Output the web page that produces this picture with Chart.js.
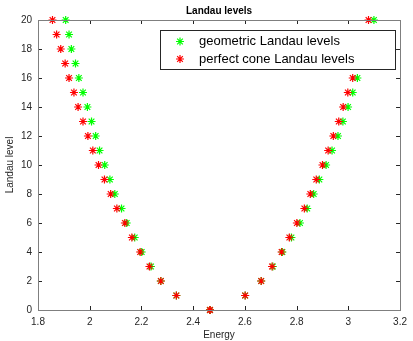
<!DOCTYPE html>
<html>
<head>
<meta charset="utf-8">
<script src="https://cdn.jsdelivr.net/npm/chart.js@4.4.1/dist/chart.umd.min.js"></script>
<style>
  html, body { margin: 0; padding: 0; background: #fff; }
  #wrap { width: 413px; height: 341px; }
</style>
</head>
<body>
<div id="wrap"><canvas id="myChart" width="413" height="341"></canvas></div>
<script>
// Landau level index (y)
const levels = [0, 1, 2, 3, 4, 5, 6, 7, 8, 9, 10, 11, 12, 13, 14, 15, 16, 17, 18, 19, 20];

// energies, indexed by level (null = hidden behind legend)
const geometricLeft  = [2.465, 2.335, 2.275, 2.237, 2.201, 2.174, 2.143, 2.123, 2.097, 2.078, 2.058, 2.038, 2.023, 2.007, 1.991, 1.974, 1.958, 1.945, 1.929, 1.920, 1.907];
const geometricRight = [2.465, 2.601, 2.663, 2.708, 2.745, 2.780, 2.813, 2.841, 2.866, 2.888, 2.914, 2.937, 2.960, 2.979, 2.999, 3.017, 3.035, null, null, null, 3.099];
const coneLeft       = [2.465, 2.335, 2.275, 2.231, 2.195, 2.163, 2.136, 2.105, 2.081, 2.057, 2.034, 2.012, 1.993, 1.974, 1.955, 1.939, 1.920, 1.905, 1.888, 1.872, 1.856];
const coneRight      = [2.465, 2.601, 2.663, 2.705, 2.742, 2.772, 2.801, 2.830, 2.853, 2.876, 2.900, 2.922, 2.942, 2.963, 2.980, 2.998, 3.017, null, null, null, 3.078];

const xTicks = [1.8, 2, 2.2, 2.4, 2.6, 2.8, 3, 3.2];
const yTicks = [0, 2, 4, 6, 8, 10, 12, 14, 16, 18, 20];
const legendLabels = ['geometric Landau levels', 'perfect cone Landau levels'];

function toPoints(left, right) {
    const pts = [];
    levels.forEach((lv, i) => {
        if (left[i] !== null) pts.push({ x: left[i], y: lv });
        if (right[i] !== null) pts.push({ x: right[i], y: lv });
    });
    return pts;
}

const axisColor = '#262626';
const fontFamily = '"Liberation Sans", Arial, Helvetica, sans-serif';

// frame with inward ticks + boxed legend, matlab style
const matlabFrame = {
    id: 'matlabFrame',
    afterDraw(chart) {
        const ctx = chart.ctx;
        const a = chart.chartArea;
        const xs = chart.scales.x, ys = chart.scales.y;
        ctx.save();
        ctx.strokeStyle = axisColor;
        ctx.lineWidth = 1;
        ctx.beginPath();
        xTicks.forEach(v => {
            const px = Math.round(xs.getPixelForValue(v)) + 0.5;
            ctx.moveTo(px, a.bottom); ctx.lineTo(px, a.bottom - 4);
            ctx.moveTo(px, a.top); ctx.lineTo(px, a.top + 4);
        });
        yTicks.forEach(v => {
            const py = Math.round(ys.getPixelForValue(v)) + 0.5;
            ctx.moveTo(a.left, py); ctx.lineTo(a.left + 4, py);
            ctx.moveTo(a.right, py); ctx.lineTo(a.right - 4, py);
        });
        ctx.stroke();
        ctx.strokeStyle = '#7f7f7f';
        ctx.strokeRect(Math.round(a.left) + 0.5, Math.round(a.top) + 0.5,
            Math.round(a.right - a.left), Math.round(a.bottom - a.top));

        // legend box
        const bx = 160.5, by = 30.5, bw = 235, bh = 39;
        ctx.fillStyle = '#fff';
        ctx.fillRect(bx, by, bw, bh);
        ctx.strokeStyle = axisColor;
        ctx.strokeRect(bx, by, bw, bh);
        const colors = ['#00ff00', '#ff0000'];
        ctx.font = '13px ' + fontFamily;
        ctx.textBaseline = 'middle';
        legendLabels.forEach((t, i) => {
            const cy = 41.5 + i * 17.5;
            ctx.strokeStyle = colors[i];
            ctx.lineWidth = 1.2;
            ctx.beginPath();
            for (let k = 0; k < 4; k++) {
                const ang = k * Math.PI / 4;
                ctx.moveTo(180 - 4 * Math.cos(ang), cy - 4 * Math.sin(ang));
                ctx.lineTo(180 + 4 * Math.cos(ang), cy + 4 * Math.sin(ang));
            }
            ctx.stroke();
            ctx.fillStyle = '#000';
            ctx.fillText(t, 199, cy);
        });

        // title
        ctx.font = 'bold 10px ' + fontFamily;
        ctx.textAlign = 'center';
        ctx.textBaseline = 'middle';
        ctx.fillStyle = '#000';
        ctx.fillText('Landau levels', (a.left + a.right) / 2, 11);
        ctx.restore();
    }
};

const ctx = document.getElementById('myChart').getContext('2d');
const myChart = new Chart(ctx, {
    type: 'scatter',
    data: {
        datasets: [
            {
                label: legendLabels[1],
                data: toPoints(coneLeft, coneRight),
                pointStyle: 'star',
                pointRadius: 4,
                borderColor: '#ff0000',
                backgroundColor: '#ff0000',
                borderWidth: 1.2,
                clip: false,
                order: 0
            },
            {
                label: legendLabels[0],
                data: toPoints(geometricLeft, geometricRight),
                pointStyle: 'star',
                pointRadius: 4,
                borderColor: '#00ff00',
                backgroundColor: '#00ff00',
                borderWidth: 1.2,
                clip: false,
                order: 1
            }
        ]
    },
    options: {
        responsive: false,
        animation: false,
        events: [],
        layout: { padding: { top: 20, right: 7, left: 0, bottom: 0 } },
        plugins: {
            legend: { display: false },
            tooltip: { enabled: false },
            title: { display: false }
        },
        scales: {
            x: {
                type: 'linear',
                min: 1.8,
                max: 3.2,
                afterBuildTicks: s => { s.ticks = xTicks.map(v => ({ value: v })); },
                afterFit: s => { s.height = 31; },
                grid: { display: false, drawTicks: false },
                border: { display: false },
                ticks: {
                    padding: 6,
                    color: axisColor,
                    font: { family: fontFamily, size: 10 },
                    maxRotation: 0,
                    callback: v => String(v)
                },
                title: {
                    display: true,
                    text: 'Energy',
                    color: axisColor,
                    padding: { top: 0, bottom: 0 },
                    font: { family: fontFamily, size: 10 }
                }
            },
            y: {
                type: 'linear',
                min: 0,
                max: 20,
                afterBuildTicks: s => { s.ticks = yTicks.map(v => ({ value: v })); },
                afterFit: s => { s.width = 38; },
                grid: { display: false, drawTicks: false },
                border: { display: false },
                ticks: {
                    padding: 6,
                    color: axisColor,
                    font: { family: fontFamily, size: 10 }
                },
                title: {
                    display: true,
                    text: 'Landau level',
                    color: axisColor,
                    padding: { top: 4, bottom: 0 },
                    font: { family: fontFamily, size: 10 }
                }
            }
        }
    },
    plugins: [matlabFrame]
});
</script>
</body>
</html>
